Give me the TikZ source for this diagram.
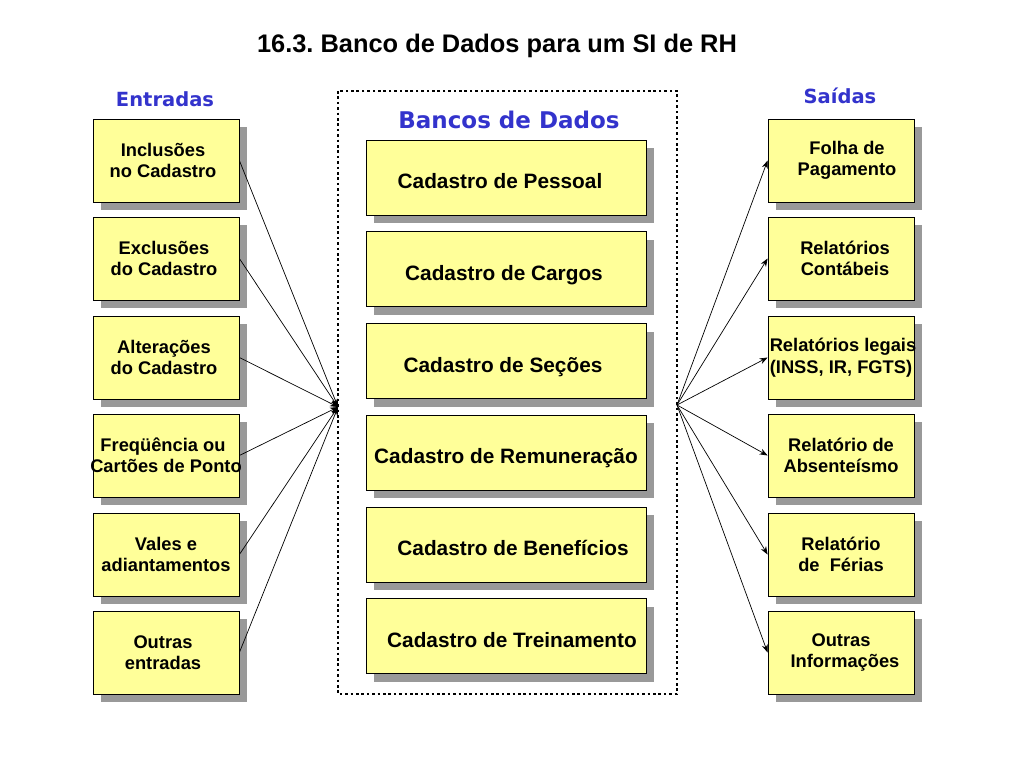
\documentclass[tikz,border=0pt]{standalone}
\usepackage{fontspec}
\setmainfont{Liberation Sans}
\newfontfamily\verd{DejaVu Sans}
\usetikzlibrary{shadows,arrows.meta}
\definecolor{boxfill}{HTML}{FFFF99}
\definecolor{shadowgray}{HTML}{999999}
\definecolor{headblue}{HTML}{3333CC}
\frenchspacing
\newcommand{\wideline}[1]{\makebox[120pt]{#1}}
\newcommand{\midtext}[2]{\raisebox{-11pt}{\hspace*{#1}#2}}
\begin{document}
\begin{tikzpicture}[x=1pt,y=-1pt,
  ybox/.style={draw=black, line width=0.8pt, fill=boxfill,
    drop shadow={shadow xshift=8pt, shadow yshift=-8pt, fill=shadowgray, opacity=1},
    align=center, font=\bfseries\fontsize{18.3}{21.5}\selectfont, inner sep=0pt},
  sidebox/.style={ybox, minimum width=146pt, minimum height=83pt},
  midbox/.style={ybox, minimum width=280pt, minimum height=75pt, font=\bfseries\fontsize{20.8}{24}\selectfont,
    text depth=0pt, text height=0pt, inner ysep=0pt},
  head/.style={text=headblue, font=\verd\bfseries\fontsize{19.5}{22}\selectfont},
  conn/.style={line width=0.7pt, -{Stealth[length=8pt,width=6pt]}}
]
\useasboundingbox (0,0) rectangle (1024,768);
\node (title) at (497,46) {\bfseries\fontsize{25.4}{28}\selectfont 16.3. Banco de Dados para um SI de RH};
\node[head] (hin) at (165,99) {Entradas};
\node[head] (hout) at (840,96) {Saídas};
\draw[line width=2.6pt, dash pattern=on 2.6pt off 2.8pt] (338,91) rectangle (677,694);
\node[text=headblue, font=\verd\bfseries\fontsize{23}{25}\selectfont] (hdb) at (509,120) {Bancos de Dados};

% left boxes
\node[sidebox] (l1) at (166,160.5) {\hspace*{-6pt}Inclusões\\\hspace*{-6pt}no Cadastro};
\node[sidebox] (l2) at (166,258.5) {\hspace*{-4pt}Exclusões\\\hspace*{-4pt}do Cadastro};
\node[sidebox] (l3) at (166,357.5) {\hspace*{-4pt}Alterações\\\hspace*{-4pt}do Cadastro};
\node[sidebox] (l4) at (166,455.5) {\wideline{\hspace*{-6pt}Freqüência ou}\\\wideline{Cartões de Ponto}};
\node[sidebox] (l5) at (166,554.5) {Vales e\\adiantamentos};
\node[sidebox] (l6) at (166,652.5) {\hspace*{-6pt}Outras\\\hspace*{-6pt}entradas};

% middle boxes
\node[midbox] (m1) at (506,177.5) {\midtext{-12pt}{Cadastro de Pessoal}};
\node[midbox] (m2) at (506,269) {\midtext{-4pt}{Cadastro de Cargos}};
\node[midbox] (m3) at (506,361) {\midtext{-6pt}{Cadastro de Seções}};
\node[midbox] (m4) at (506,452.5) {\midtext{0pt}{Cadastro de Remuneração}};
\node[midbox] (m5) at (506,544.5) {\midtext{14pt}{Cadastro de Benefícios}};
\node[midbox] (m6) at (506,636) {\midtext{12pt}{Cadastro de Treinamento}};

% right boxes
\node[sidebox] (r1) at (841,160.5) {\hspace*{12pt}Folha de\\\hspace*{12pt}Pagamento};
\node[sidebox] (r2) at (841,258.5) {\hspace*{8pt}Relatórios\\\hspace*{8pt}Contábeis};
\node[sidebox] (r3) at (841,357.5) {\wideline{\hspace*{4pt}Relatórios legais}\\\wideline{(INSS, IR, FGTS)}};
\node[sidebox] (r4) at (841,455.5) {Relatório de\\Absenteísmo};
\node[sidebox] (r5) at (841,554.5) {Relatório\\de~ Férias};
\node[sidebox] (r6) at (841,652.5) {Outras\\\hspace*{8pt}Informações};

\coordinate (cin) at (338,407);
\coordinate (cout) at (677,405);
\foreach \i in {1,...,6} {
  \draw[conn] (l\i.east) -- (cin);
  \draw[conn] (cout) -- (r\i.west);
}
\end{tikzpicture}
\end{document}
